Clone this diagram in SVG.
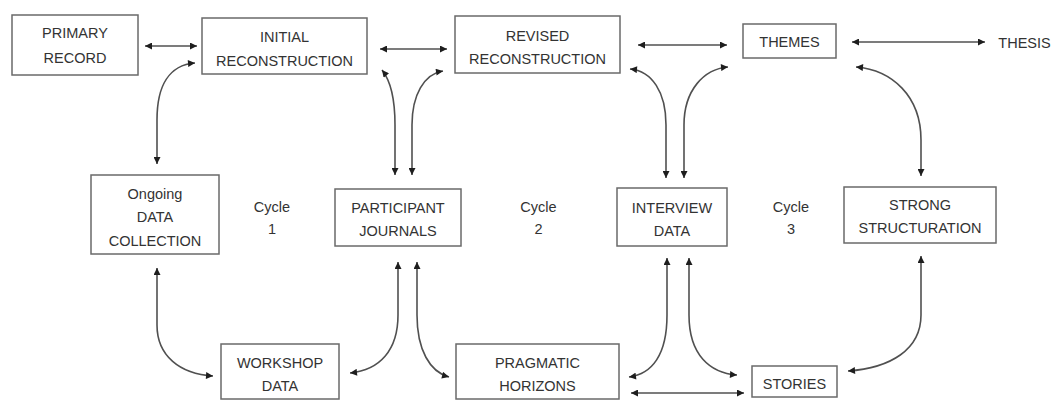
<svg xmlns="http://www.w3.org/2000/svg" width="1053" height="400" viewBox="0 0 1053 400">
  <defs>
    <marker id="head" viewBox="0 0 10 10" refX="10" refY="5" markerWidth="8" markerHeight="7" markerUnits="userSpaceOnUse" orient="auto-start-reverse">
      <path d="M0,0 L10,5 L0,10 z" fill="#1e1e1e"/>
    </marker>
    <style>
      .box { fill: #ffffff; stroke: #6a6a6a; stroke-width: 1.5; }
      .lbl { font-family: "Liberation Sans", Arial, sans-serif; font-size: 14.5px; fill: #333333; text-anchor: middle; }
      .link { fill: none; stroke: #505050; stroke-width: 1.6; marker-start: url(#head); marker-end: url(#head); }
    </style>
  </defs>
  <rect width="1053" height="400" fill="#ffffff"/>

  <!-- connectors: every link is two-headed -->
  <g id="connectors">
    <path class="link" d="M145,46 L197,46"/>
    <path class="link" d="M380,49 L447,49"/>
    <path class="link" d="M638,45 L727,45"/>
    <path class="link" d="M852,42 L985,42"/>
    <!-- cycle 1 -->
    <path class="link" d="M157,164 L157,120 C157,86 169,65 195,63"/>
    <path class="link" d="M157,268 L157,325 C157,356 180,374 213,376"/>
    <path class="link" d="M395,175 L395,125 C395,98 390,80 382,70"/>
    <path class="link" d="M412,175 L412,125 C412,95 424,74 443,71"/>
    <path class="link" d="M398,262 L398,315 C398,350 380,370 350,373"/>
    <path class="link" d="M417,262 L417,315 C417,350 430,372 449,377"/>
    <!-- cycle 2 -->
    <path class="link" d="M666,178 L666,125 C666,92 652,71 630,69"/>
    <path class="link" d="M684,178 L684,125 C684,90 704,69 728,67"/>
    <path class="link" d="M667,258 L667,315 C667,355 652,374 629,377"/>
    <path class="link" d="M689,258 L689,315 C689,355 710,373 737,375"/>
    <path class="link" d="M631,393 L744,393"/>
    <!-- cycle 3 -->
    <path class="link" d="M921,176 L921,140 C921,96 892,70 856,67"/>
    <path class="link" d="M921,256 L921,315 C921,350 890,368 848,371"/>
  </g>

  <g id="primary-record">
    <rect class="box" x="12" y="15" width="126" height="60"/>
    <text class="lbl" x="75" y="38">PRIMARY</text>
    <text class="lbl" x="75" y="63">RECORD</text>
  </g>
  <g id="initial-reconstruction">
    <rect class="box" x="202" y="18" width="165" height="56"/>
    <text class="lbl" x="284.5" y="42">INITIAL</text>
    <text class="lbl" x="284.5" y="66">RECONSTRUCTION</text>
  </g>
  <g id="revised-reconstruction">
    <rect class="box" x="455" y="16" width="165" height="57"/>
    <text class="lbl" x="537.5" y="41">REVISED</text>
    <text class="lbl" x="537.5" y="64">RECONSTRUCTION</text>
  </g>
  <g id="themes">
    <rect class="box" x="743" y="24" width="93" height="34"/>
    <text class="lbl" x="789.5" y="47">THEMES</text>
  </g>
  <g id="thesis">
    <text class="lbl" x="1024.5" y="48">THESIS</text>
  </g>

  <g id="ongoing-data-collection">
    <rect class="box" x="91" y="175" width="128" height="79"/>
    <text class="lbl" x="155" y="199">Ongoing</text>
    <text class="lbl" x="155" y="222">DATA</text>
    <text class="lbl" x="155" y="246">COLLECTION</text>
  </g>
  <g id="cycle-1">
    <text class="lbl" x="272" y="212">Cycle</text>
    <text class="lbl" x="272" y="234">1</text>
  </g>
  <g id="participant-journals">
    <rect class="box" x="335" y="189" width="126" height="57"/>
    <text class="lbl" x="398" y="213">PARTICIPANT</text>
    <text class="lbl" x="398" y="236">JOURNALS</text>
  </g>
  <g id="cycle-2">
    <text class="lbl" x="538.5" y="212">Cycle</text>
    <text class="lbl" x="538.5" y="234">2</text>
  </g>
  <g id="interview-data">
    <rect class="box" x="617" y="188" width="110" height="58"/>
    <text class="lbl" x="672" y="213">INTERVIEW</text>
    <text class="lbl" x="672" y="236">DATA</text>
  </g>
  <g id="cycle-3">
    <text class="lbl" x="791" y="212">Cycle</text>
    <text class="lbl" x="791" y="234">3</text>
  </g>
  <g id="strong-structuration">
    <rect class="box" x="844" y="187" width="152" height="56"/>
    <text class="lbl" x="920" y="210">STRONG</text>
    <text class="lbl" x="920" y="233">STRUCTURATION</text>
  </g>

  <g id="workshop-data">
    <rect class="box" x="221" y="344" width="118" height="55"/>
    <text class="lbl" x="280" y="368">WORKSHOP</text>
    <text class="lbl" x="280" y="391">DATA</text>
  </g>
  <g id="pragmatic-horizons">
    <rect class="box" x="456" y="344" width="163" height="55"/>
    <text class="lbl" x="537.5" y="368">PRAGMATIC</text>
    <text class="lbl" x="537.5" y="391">HORIZONS</text>
  </g>
  <g id="stories">
    <rect class="box" x="752" y="366" width="85" height="31"/>
    <text class="lbl" x="794.5" y="389">STORIES</text>
  </g>
</svg>
